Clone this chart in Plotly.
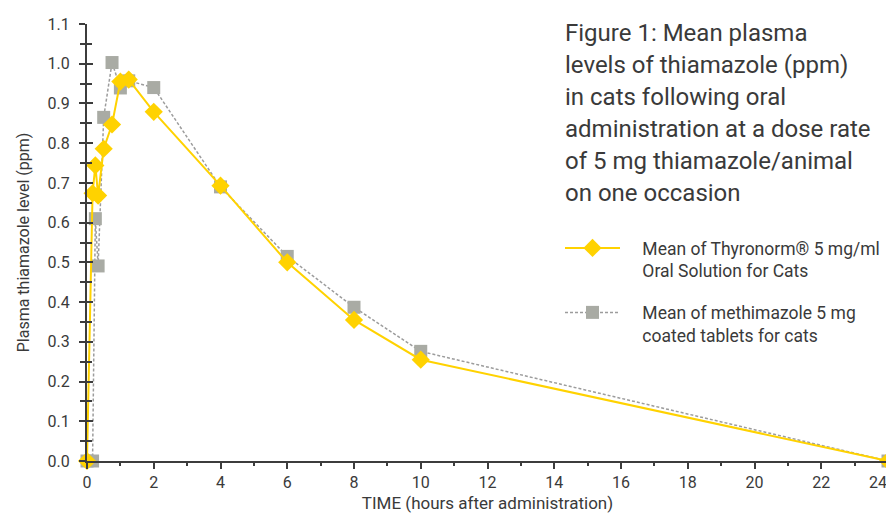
import plotly.graph_objects as go

# ---- data ----
time_thyronorm = [0, 0.167, 0.25, 0.333, 0.5, 0.75, 1, 1.25, 2, 4, 6, 8, 10, 24]
level_thyronorm = [0.0, 0.674, 0.744, 0.668, 0.786, 0.847, 0.955, 0.960, 0.879, 0.693, 0.500, 0.355, 0.255, 0.0]

time_methimazole = [0, 0.167, 0.25, 0.333, 0.5, 0.75, 1, 1.25, 2, 4, 6, 8, 10, 24]
level_methimazole = [0.0, 0.0, 0.610, 0.491, 0.865, 1.003, 0.939, 0.957, 0.940, 0.690, 0.515, 0.387, 0.276, 0.0]

x_tick_vals = [0, 2, 4, 6, 8, 10, 12, 14, 16, 18, 20, 22, 24]
x_tick_labels = ["0", "2", "4", "6", "8", "10", "12", "14", "16", "18", "20", "22", "24"]

name_thyronorm_lines = ["Mean of Thyronorm® 5 mg/ml", "Oral Solution for Cats"]
name_methimazole_lines = ["Mean of methimazole 5 mg", "coated tablets for cats"]

title_lines = [
    "Figure 1: Mean plasma",
    "levels of thiamazole (ppm)",
    "in cats following oral",
    "administration at a dose rate",
    "of 5 mg thiamazole/animal",
    "on one occasion",
]

x_title = "TIME (hours after administration)"
y_title = "Plasma thiamazole level (ppm)"

# ---- style ----
FONT = "Roboto"
TXT = "#3a3a3a"
AX = "#3c3c3c"
YELLOW = "#FFD200"
GREY_M = "#a9aba4"
GREY_L = "#9c9c9c"

NB = "\u00a0"
PAD = NB * 4


def legend_name(lines):
    return "<br>".join(PAD + s for s in lines)


# last tick label nudged left so it stays inside the page edge
tick_text = [t if v != 24 else t + NB * 5 for v, t in zip(x_tick_vals, x_tick_labels)]

OFF = 8  # page body margin
W, H = 894 - OFF, 519 - OFF
L, T = 87 - OFF, 24 - OFF
R = W - (888 - OFF)
B = H - (461 - OFF)
PW, PH = W - L - R, H - T - B

fig = go.Figure()

fig.add_trace(go.Scatter(
    x=time_methimazole, y=level_methimazole, name=legend_name(name_methimazole_lines),
    mode="lines+markers",
    line=dict(color=GREY_L, width=1.5, dash="3px,2px"),
    marker=dict(symbol="square", size=13, color=GREY_M),
    cliponaxis=False, legendrank=2, legendgroup="b",
    yaxis="y",
))
fig.add_trace(go.Scatter(
    x=time_thyronorm, y=level_thyronorm, name=legend_name(name_thyronorm_lines),
    mode="lines+markers",
    line=dict(color=YELLOW, width=2),
    marker=dict(symbol="diamond", size=14, color=YELLOW),
    cliponaxis=False, legendrank=1, legendgroup="a",
    yaxis="y2",
))

yticks = dict(tickmode="linear", tick0=0, dtick=0.1)
fig.update_layout(
    width=W, height=H,
    margin=dict(l=L, r=R, t=T, b=B, autoexpand=False),
    paper_bgcolor="white", plot_bgcolor="white",
    font=dict(family=FONT, color=TXT, size=16),
    showlegend=True,
    legend=dict(
        x=(552 - L) / PW, xanchor="left",
        y=1 - (222 - T) / PH, yanchor="top",
        font=dict(size=17.5, color=TXT),
        bgcolor="rgba(0,0,0,0)",
        itemwidth=55, valign="top",
        traceorder="grouped", tracegroupgap=16,
    ),
    xaxis=dict(
        range=[0, 24], tickmode="array", tickvals=x_tick_vals, ticktext=tick_text,
        automargin=False, ticklabeloverflow="allow",
        showgrid=False, zeroline=False,
        showline=True, linecolor=AX, linewidth=2,
        ticks="outside", ticklen=6, tickwidth=2, tickcolor=AX,
        minor=dict(tickmode="linear", tick0=0, dtick=1, ticks="outside", ticklen=3,
                   tickwidth=2, tickcolor=AX, showgrid=False),
        tickfont=dict(size=16, color=TXT),
        title=dict(text=x_title, font=dict(size=17, color=TXT), standoff=6),
    ),
    yaxis=dict(
        range=[0, 1.1], **yticks,
        automargin=False,
        tickformat=".1f",
        showgrid=False, zeroline=False,
        showline=True, linecolor=AX, linewidth=2,
        ticks="outside", ticklen=6, tickwidth=2, tickcolor=AX,
        minor=dict(dtick=0.05, ticks="outside", ticklen=5, tickwidth=2, tickcolor=AX, showgrid=False),
        ticklabelstandoff=6,
        tickfont=dict(size=16, color=TXT),
        title=dict(text=y_title, font=dict(size=16, color=TXT), standoff=14),
    ),
    yaxis2=dict(
        range=[0, 1.1], **yticks,
        overlaying="y", side="left", anchor="x",
        automargin=False,
        showgrid=False, zeroline=False, showline=False,
        showticklabels=False,
        ticks="inside", ticklen=6, tickwidth=2, tickcolor=AX,
        minor=dict(dtick=0.05, ticks="inside", ticklen=5, tickwidth=2, tickcolor=AX, showgrid=False),
    ),
)

for i, line in enumerate(title_lines):
    yc = 25 + 32 * i
    fig.add_annotation(
        text=line, xref="paper", yref="paper",
        x=(555 - L) / PW, xanchor="left",
        y=1 + (T - yc) / PH, yanchor="middle",
        showarrow=False, font=dict(size=24, color=TXT, family=FONT),
    )

fig.write_html("out.html")
